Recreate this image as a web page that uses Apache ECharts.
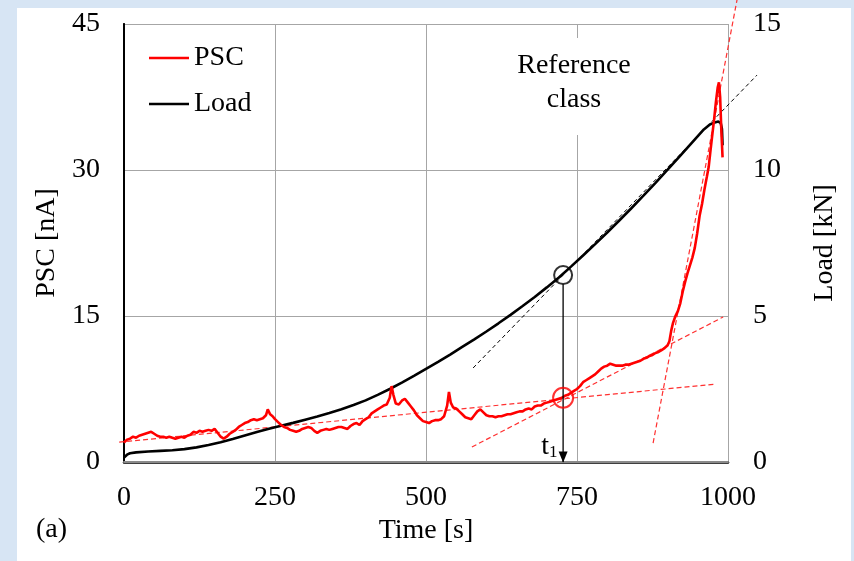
<!DOCTYPE html>
<html><head><meta charset="utf-8">
<script src="https://cdn.jsdelivr.net/npm/echarts@6/dist/echarts.min.js"></script>
<style>html,body{margin:0;padding:0;background:#d7e5f4}#c{width:854px;height:561px}</style>
</head><body><div id="c"></div>
<script>
// ---- data ----
const pscTime = [0,5,10,15,20,25,30,35,40,45,50,55,60,65,70,75,80,85,90,95,100,105,110,115,120,125,130,135,140,145,150,155,160,165,170,175,180,185,190,195,200,205,210,215,220,225,230,235,238,242,246,250,255,260,265,270,275,280,285,290,295,300,305,310,315,320,325,330,335,340,345,350,355,360,365,370,375,380,385,390,395,400,405,410,415,420,425,430,435,440,443,446,450,455,460,465,470,475,480,485,490,495,500,505,510,515,520,525,530,535,538,541,545,550,555,560,565,570,575,580,585,590,595,600,605,610,615,620,625,630,635,640,645,650,655,660,665,670,675,680,685,690,695,700,705,710,715,720,725,730,735,740,745,750,755,760,765,770,775,780,785,790,795,800,805,810,815,820,825,830,835,840,845,850,855,860,865,870,875,880,885,890,895,900,903,906,909,913,917,921,925,929,933,937,941,945,949,953,957,961,965,968,971,974,977,980,983,985,987,989,991];
const pscValues = [2.0,2.3,2.4,2.6,2.5,2.7,2.8,2.9,3.0,3.1,2.9,2.7,2.6,2.6,2.5,2.6,2.5,2.4,2.5,2.6,2.5,2.7,2.8,3.1,3.0,3.2,3.1,3.2,3.3,3.2,3.4,3.0,2.6,2.4,2.6,2.9,3.1,3.3,3.6,3.8,4.0,4.1,4.3,4.4,4.3,4.4,4.5,4.8,5.4,4.9,4.7,4.4,4.1,3.8,3.6,3.5,3.3,3.2,3.1,3.2,3.4,3.5,3.6,3.5,3.2,3.0,3.2,3.3,3.4,3.3,3.4,3.5,3.6,3.6,3.5,3.4,3.7,3.9,4.0,3.8,4.2,4.4,4.6,5.0,5.2,5.4,5.6,5.8,5.9,6.6,7.8,6.9,6.0,5.9,6.3,6.5,6.1,5.7,5.3,4.8,4.5,4.2,4.1,4.0,4.2,4.3,4.3,4.4,4.7,5.8,7.2,6.1,5.6,5.5,5.2,4.9,4.6,4.5,4.4,4.8,5.2,5.4,5.1,4.8,4.7,4.7,4.6,4.7,4.7,4.8,4.9,4.9,5.0,5.1,5.2,5.2,5.4,5.5,5.4,5.7,5.8,5.8,6.0,6.1,6.2,6.3,6.4,6.5,6.6,6.8,6.9,7.1,7.3,7.5,7.8,8.2,8.4,8.6,8.8,9.0,9.3,9.6,9.8,9.9,10.1,10.0,9.9,9.9,9.9,10.0,10.0,10.1,10.2,10.3,10.4,10.6,10.7,10.9,11.0,11.2,11.3,11.5,11.7,12.0,12.4,13.5,14.3,15.0,15.5,16.3,17.5,18.5,19.4,20.2,21.0,22.0,23.5,25.3,26.5,28.0,29.3,30.3,32.0,33.6,35.2,37.0,38.5,39.0,37.5,34.0,31.3];
const loadTime = [0,5,10,20,40,60,80,100,120,140,160,180,200,220,240,260,280,300,320,340,360,380,400,420,440,460,480,500,520,540,560,580,600,620,640,660,680,700,720,740,760,780,800,820,840,860,880,900,920,940,960,970,978,984,988,990,991];
const loadValues = [0.15,0.25,0.3,0.33,0.36,0.38,0.4,0.44,0.5,0.58,0.68,0.79,0.91,1.03,1.14,1.24,1.34,1.45,1.56,1.68,1.81,1.95,2.11,2.30,2.50,2.72,2.95,3.19,3.43,3.68,3.94,4.20,4.47,4.75,5.04,5.34,5.65,5.98,6.32,6.69,7.07,7.46,7.86,8.27,8.69,9.12,9.56,10.01,10.47,10.93,11.39,11.56,11.63,11.66,11.6,11.4,10.85];
const xTickLabels = ['0', '250', '500', '750', '1000'];
// tangent / reference lines: [time0, value0, time1, value1]
const pscBaseline = [-8, 2.04, 979, 8.0];
const pscSlope2 = [576, 1.54, 992, 14.9];
const pscSteep = [876, 1.95, 1015, 47.5];
const loadTangent = [578, 3.22, 1048, 13.25];
// reference point t1
const t1Time = 727;
const t1Load = 6.4;
const t1Psc = 6.6;
const t1ArrowTop = 6.09;

const FONT = 'Liberation Serif';
const zip = (a, b) => a.map((v, i) => [v, b[i]]);

function dashedSeries(seg, yIdx, color, width, dash) {
  return {
    type: 'custom', yAxisIndex: yIdx, clip: false, z: 3, silent: true,
    data: [seg], encode: {x: [0, 2], y: [1, 3]},
    renderItem: function (params, api) {
      const p0 = api.coord([api.value(0), api.value(1)]);
      const p1 = api.coord([api.value(2), api.value(3)]);
      return {type: 'line', shape: {x1: p0[0], y1: p0[1], x2: p1[0], y2: p1[1]},
        style: {stroke: color, lineWidth: width, lineDash: dash, fill: null}};
    }
  };
}

const chart = echarts.init(document.getElementById('c'), null, {renderer: 'canvas'});
chart.setOption({
  animation: false,
  backgroundColor: '#d7e5f4',
  textStyle: {fontFamily: FONT, color: '#000'},
  grid: {left: 124, right: 126, top: 24, bottom: 99, show: true, backgroundColor: '#fff', borderWidth: 0},
  graphic: [
    {type: 'rect', z: -10, silent: true, shape: {x: 17, y: 8, width: 834, height: 560}, style: {fill: '#ffffff'}},
    {type: 'text', z: 50, left: 36, top: 516, style: {text: '(a)', font: '28px ' + FONT, fill: '#000'}},
    {type: 'text', z: 50, x: 574, y: 38, style: {text: 'Reference\nclass', font: '28px ' + FONT, fill: '#000', align: 'center', verticalAlign: 'top', lineHeight: 34, backgroundColor: '#fff', padding: [11, 12, 18, 12]}}
  ],
  legend: {
    data: ['PSC', 'Load'], orient: 'vertical', left: 149, top: 44, padding: 0, icon: 'rect',
    itemWidth: 40, itemHeight: 2.5, itemGap: 18,
    textStyle: {fontFamily: FONT, fontSize: 28, color: '#000'}
  },
  xAxis: [{
    type: 'value', min: 0, max: 1000, interval: 250,
    name: 'Time [s]', nameLocation: 'middle', nameGap: 55,
    nameTextStyle: {fontFamily: FONT, fontSize: 28, color: '#000'},
    axisLine: {show: true, onZero: false, lineStyle: {color: '#000', width: 2.5}},
    axisTick: {show: false},
    axisLabel: {fontFamily: FONT, fontSize: 28, color: '#000', margin: 22,
      formatter: function (v) { return xTickLabels[Math.round(v / 250)]; }},
    splitLine: {show: true, lineStyle: {color: '#a6a6a6', width: 1}}
  }, {
    type: 'value', min: 0, max: 1000, position: 'top',
    axisLine: {show: true, lineStyle: {color: '#8a8a8a', width: 2}},
    axisTick: {show: false}, axisLabel: {show: false}, splitLine: {show: false}
  }],
  yAxis: [{
    type: 'value', min: 0, max: 45, interval: 15,
    name: 'PSC [nA]', nameLocation: 'middle', nameGap: 62, nameRotate: 90,
    nameTextStyle: {fontFamily: FONT, fontSize: 28, color: '#000'},
    axisLine: {show: true, lineStyle: {color: '#404040', width: 2}},
    axisTick: {show: false},
    axisLabel: {fontFamily: FONT, fontSize: 28, color: '#000', margin: 24, padding: [6, 0, 0, 0]},
    splitLine: {show: true, lineStyle: {color: '#a6a6a6', width: 1}}
  }, {
    type: 'value', min: 0, max: 15, interval: 5, position: 'right',
    name: 'Load [kN]', nameLocation: 'middle', nameGap: 83, nameRotate: 90,
    nameTextStyle: {fontFamily: FONT, fontSize: 28, color: '#000'},
    axisLine: {show: true, lineStyle: {color: '#000', width: 2}},
    axisTick: {show: false},
    axisLabel: {fontFamily: FONT, fontSize: 28, color: '#000', margin: 25, padding: [6, 0, 0, 0]},
    splitLine: {show: false}
  }],
  series: [
    {name: 'PSC', type: 'line', yAxisIndex: 0, data: zip(pscTime, pscValues), showSymbol: false,
     color: '#ff0000', lineStyle: {color: '#ff0000', width: 2.6}, z: 5},
    {name: 'Load', type: 'line', yAxisIndex: 1, data: zip(loadTime, loadValues), showSymbol: false,
     color: '#000', lineStyle: {color: '#000', width: 2.6}, z: 4},
    dashedSeries(pscBaseline, 0, '#ff3030', 1.2, [5, 3]),
    dashedSeries(pscSlope2, 0, '#ff3030', 1.2, [5, 3]),
    dashedSeries(pscSteep, 0, '#ff3030', 1.2, [5, 3]),
    dashedSeries(loadTangent, 1, '#000', 1, [4, 3]),
    {name: 'circLoad', type: 'scatter', yAxisIndex: 1, data: [[t1Time, t1Load]], symbol: 'circle', symbolSize: 18,
     itemStyle: {color: 'rgba(0,0,0,0)', borderColor: '#000', borderWidth: 2}, z: 6},
    {name: 'circPsc', type: 'scatter', yAxisIndex: 0, data: [[t1Time, t1Psc]], symbol: 'circle', symbolSize: 20,
     itemStyle: {color: 'rgba(0,0,0,0)', borderColor: '#ff0000', borderWidth: 2}, z: 6},
    {name: 'arrow', type: 'line', yAxisIndex: 1, clip: false, z: 6,
     lineStyle: {color: '#000', width: 1.3}, itemStyle: {color: '#000'},
     data: [
       {value: [t1Time, t1ArrowTop], symbol: 'none'},
       {value: [t1Time, 0], symbol: 'triangle', symbolSize: [9, 11], symbolRotate: 180, symbolOffset: [0, -5],
        label: {show: true, position: 'left', distance: 4, offset: [3, -10],
          formatter: '{a|t}{b|1}',
          rich: {
            a: {fontFamily: FONT, fontSize: 28, lineHeight: 28, verticalAlign: 'top', color: '#000'},
            b: {fontFamily: FONT, fontSize: 17, lineHeight: 17, verticalAlign: 'bottom', padding: [17, 0, 0, 0], color: '#000'}
          }}}
     ]}
  ]
});
</script></body></html>
